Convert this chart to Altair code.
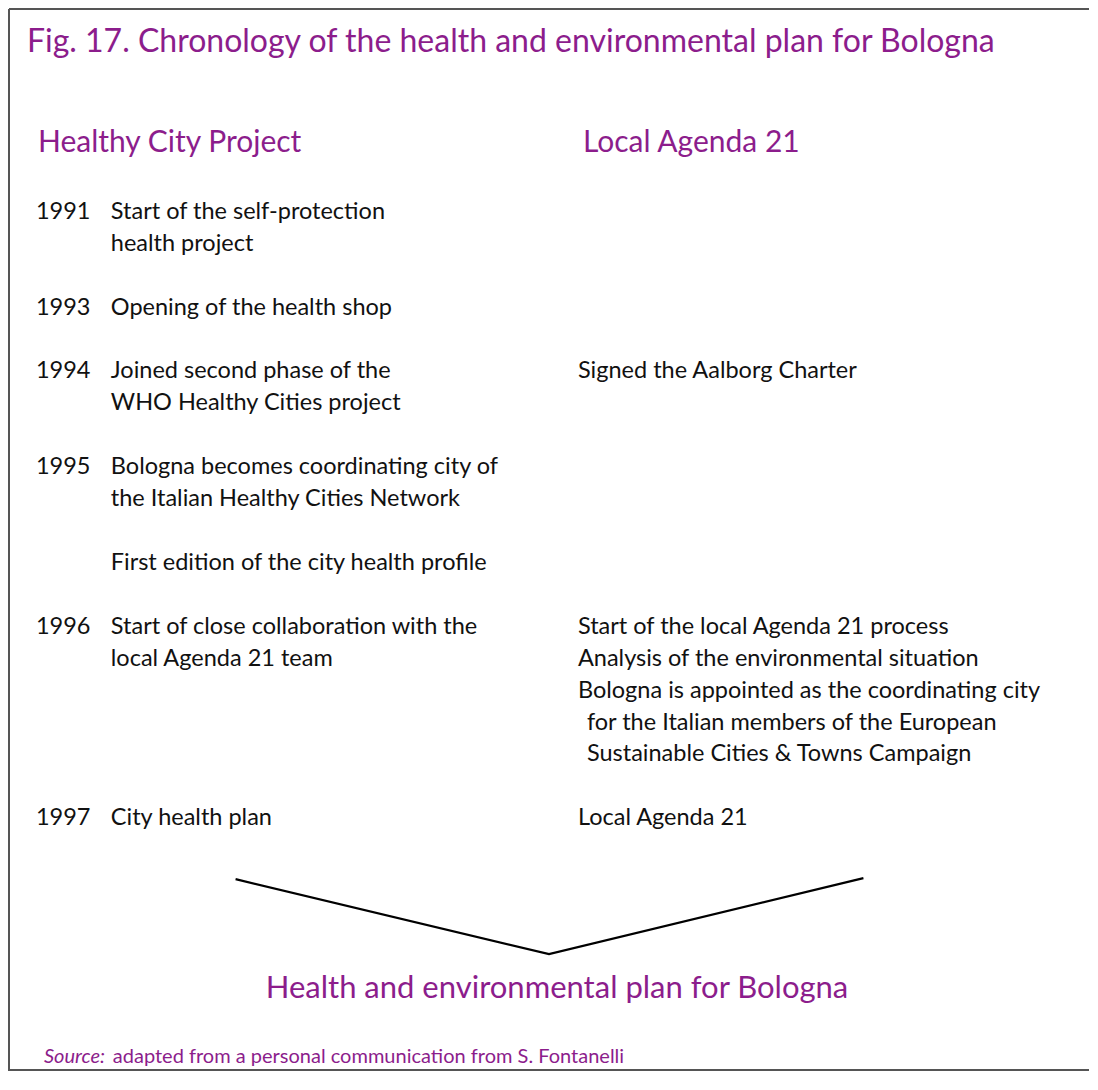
import altair as alt
import pandas as pd

# ---------------- content ----------------
title_text = "Fig. 17. Chronology of the health and environmental plan for Bologna"
left_header = "Healthy City Project"
right_header = "Local Agenda 21"

years = ["1991", "1993", "1994", "1995", "1996", "1997"]
year_rows = [0, 3, 5, 8, 13, 19]

left_texts = [
    "Start of the self-protection",
    "health project",
    "Opening of the health shop",
    "Joined second phase of the",
    "WHO Healthy Cities project",
    "Bologna becomes coordinating city of",
    "the Italian Healthy Cities Network",
    "First edition of the city health profile",
    "Start of close collaboration with the",
    "local Agenda 21 team",
    "City health plan",
]
left_rows = [0, 1, 3, 5, 6, 8, 9, 11, 13, 14, 19]

right_texts = [
    "Signed the Aalborg Charter",
    "Start of the local Agenda 21 process",
    "Analysis of the environmental situation",
    "Bologna is appointed as the coordinating city",
    "for the Italian members of the European",
    "Sustainable Cities & Towns Campaign",
    "Local Agenda 21",
]
right_rows = [5, 13, 14, 15, 16, 17, 19]
right_indent = [0, 0, 0, 0, 1, 1, 0]

outcome_text = "Health and environmental plan for Bologna"
source_label = "Source:"
source_text = "adapted from a personal communication from S. Fontanelli"

# ---------------- layout / style ----------------
PURPLE = "#8C1D8C"
INK = "#111111"
FONT = "Lato"
W, H = 1082, 1064          # whole chart (page margin 8px, no scrollbars)
ROW0, PITCH = 212, 31.95   # text grid
X_YEAR, X_LEFT, X_RIGHT, INDENT = 35, 110, 578, 9

def row_y(r):
    return ROW0 + PITCH * r

xs = alt.Scale(domain=[8, 8 + W], nice=False, zero=False)
ys = alt.Scale(domain=[8, 8 + H], nice=False, zero=False, reverse=True)

def X(f="x"):
    return alt.X(f"{f}:Q", scale=xs, axis=None)

def Y(f="y"):
    return alt.Y(f"{f}:Q", scale=ys, axis=None)

def text_layer(df, size, color, align="left", style="normal"):
    return alt.Chart(df).mark_text(
        align=align, baseline="middle", font=FONT, fontSize=size,
        color=color, fontStyle=style,
    ).encode(x=X(), y=Y(), text="t:N")

title_df = pd.DataFrame({"t": [title_text], "x": [26], "y": [42]})
heads = pd.DataFrame({
    "t": [left_header, right_header],
    "x": [37, 583],
    "y": [143, 143],
})
outcome_df = pd.DataFrame({"t": [outcome_text], "x": [557], "y": [990]})

year_df = pd.DataFrame({"t": years, "x": X_YEAR, "y": [row_y(r) for r in year_rows]})
left_df = pd.DataFrame({"t": left_texts, "x": X_LEFT, "y": [row_y(r) for r in left_rows]})
right_df = pd.DataFrame({
    "t": right_texts,
    "x": [X_RIGHT + INDENT * i for i in right_indent],
    "y": [row_y(r) for r in right_rows],
})

src_lab = pd.DataFrame({"t": [source_label], "x": [43], "y": [1058]})
src_txt = pd.DataFrame({"t": [source_text], "x": [112], "y": [1058]})

connector = pd.DataFrame({"x": [235, 549, 864], "y": [880, 955, 879], "o": [0, 1, 2]})
lines = alt.Chart(connector).mark_line(color="#000000", strokeWidth=2.2).encode(
    x=X(), y=Y(), order="o:Q"
)

frame = pd.DataFrame({
    "x": [8, 8, 8], "x2": [8 + W, 8, 8 + W],
    "y": [9, 9, 8 + H - 1], "y2": [9, 8 + H, 8 + H - 1],
})
frame_layer = alt.Chart(frame).mark_rule(color="#555555", strokeWidth=2).encode(
    x=X(), x2="x2:Q", y=Y(), y2="y2:Q"
)

chart = alt.layer(
    frame_layer,
    text_layer(title_df, 32, PURPLE),
    text_layer(heads, 30, PURPLE),
    text_layer(year_df, 23.5, INK),
    text_layer(left_df, 23.5, INK),
    text_layer(right_df, 23.5, INK),
    lines,
    text_layer(outcome_df, 31, PURPLE, align="center"),
    text_layer(src_lab, 20, PURPLE, style="italic"),
    text_layer(src_txt, 20, PURPLE),
).properties(
    width=W, height=H, padding=0,
    autosize=alt.AutoSizeParams(type="fit", contains="padding"),
).configure_view(stroke="transparent", strokeWidth=0)

chart.save("out.html", embed_options={"renderer": "svg", "actions": False})
